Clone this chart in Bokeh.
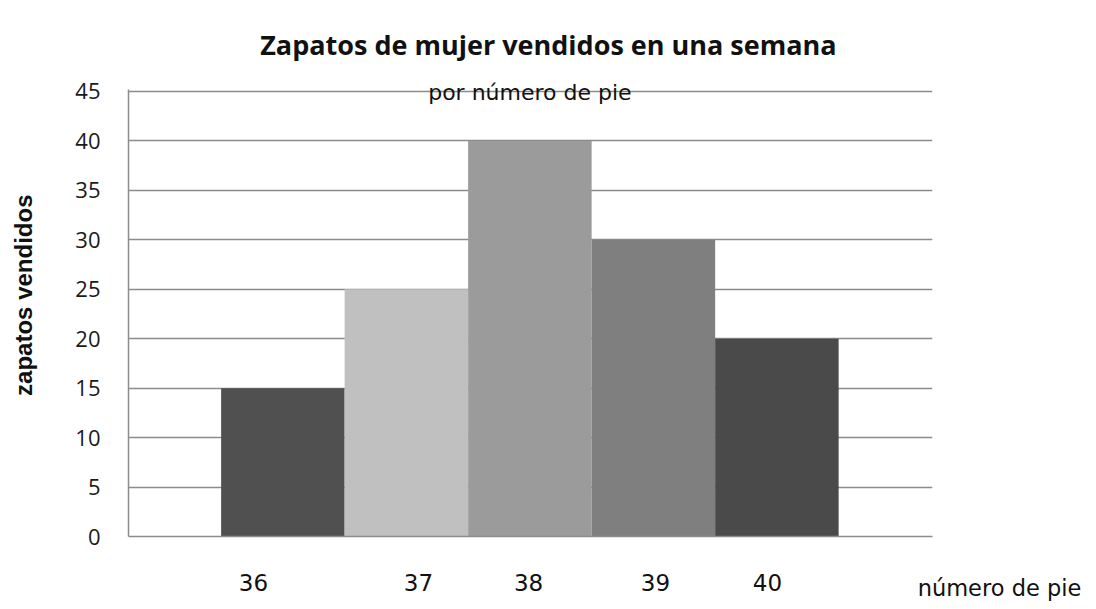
from bokeh.plotting import figure
from bokeh.models import Range1d, FixedTicker, Label, ColumnDataSource, CustomJSTickFormatter
from bokeh.embed import file_html
from bokeh.resources import INLINE
import math

# ---- data ----
sizes = [36, 37, 38, 39, 40]
sold = [15, 25, 40, 30, 20]
size_labels = ["36", "37", "38", "39", "40"]
bar_colors = ["#505050", "#c0c0c0", "#9b9b9b", "#7f7f7f", "#4a4a4a"]
y_ticks = [0, 5, 10, 15, 20, 25, 30, 35, 40, 45]

title_text = "Zapatos de mujer vendidos en una semana"
subtitle_text = "por número de pie"
x_title = "número de pie"
y_title = "zapatos vendidos"

# ---- layout ----
label_shift = [-0.238, 0.098, -0.011, 0.017, -0.076]  # tick-label offsets from bar centres

p = figure(width=1096, height=609, output_backend="svg", toolbar_location=None,
           x_range=Range1d(34.75, 41.26), y_range=Range1d(0, 45.2),
           min_border_left=128, min_border_right=164, min_border_top=89,
           min_border_bottom=73)
p.outline_line_color = None
p.background_fill_color = "white"

src = ColumnDataSource(dict(x=sizes, top=sold, color=bar_colors))
p.vbar(x="x", top="top", width=1.0, bottom=0, color="color", line_color=None, source=src)

grid_color = "#8c8c8c"
p.xgrid.visible = False
p.ygrid.ticker = FixedTicker(ticks=y_ticks)
p.ygrid.grid_line_color = grid_color
p.ygrid.grid_line_width = 1.5

p.yaxis.ticker = FixedTicker(ticks=y_ticks)
p.yaxis.axis_line_color = grid_color
p.yaxis.axis_line_width = 1.5
p.yaxis.major_tick_line_color = None
p.yaxis.minor_tick_line_color = None
p.yaxis.major_label_standoff = 22
p.yaxis.major_label_text_font = "Open Sans"
p.yaxis.major_label_text_font_size = "22px"
p.yaxis.major_label_text_color = "#1a1a1a"

tick_pos = [s + d for s, d in zip(sizes, label_shift)]
p.xaxis.ticker = FixedTicker(ticks=tick_pos)
p.xaxis.formatter = CustomJSTickFormatter(args=dict(labels=size_labels),
                                          code="return labels[index] ?? '';")
p.xaxis.axis_line_color = grid_color
p.xaxis.axis_line_width = 1.5
p.xaxis.major_tick_line_color = None
p.xaxis.minor_tick_line_color = None
p.xaxis.major_label_standoff = 31
p.xaxis.major_label_text_font = "DejaVu Sans"
p.xaxis.major_label_text_font_size = "23px"
p.xaxis.major_label_text_color = "#111111"

p.add_layout(Label(x=41.14, y=-5.2, text=x_title, text_align="left",
                   text_baseline="alphabetic", text_font="DejaVu Sans",
                   text_font_size="22.5px", text_color="#111111"), "right")

p.add_layout(Label(x=33.9, y=24.4, text=y_title, angle=math.pi / 2,
                   text_align="center", text_baseline="middle",
                   text_font="Liberation Sans", text_font_style="bold",
                   text_font_size="24px", text_color="#111111"), "left")

p.add_layout(Label(x=38.15, y=49.7, text=title_text, text_align="center",
                   text_baseline="alphabetic", text_font="Open Sans",
                   text_font_style="bold", text_font_size="27px",
                   text_color="#111111"), "above")

p.add_layout(Label(x=38.0, y=44.85, text=subtitle_text, text_align="center",
                   text_baseline="alphabetic", text_font="DejaVu Sans",
                   text_font_size="22px", text_color="#111111"), "above")

open("out.html", "w").write(file_html(p, INLINE))
